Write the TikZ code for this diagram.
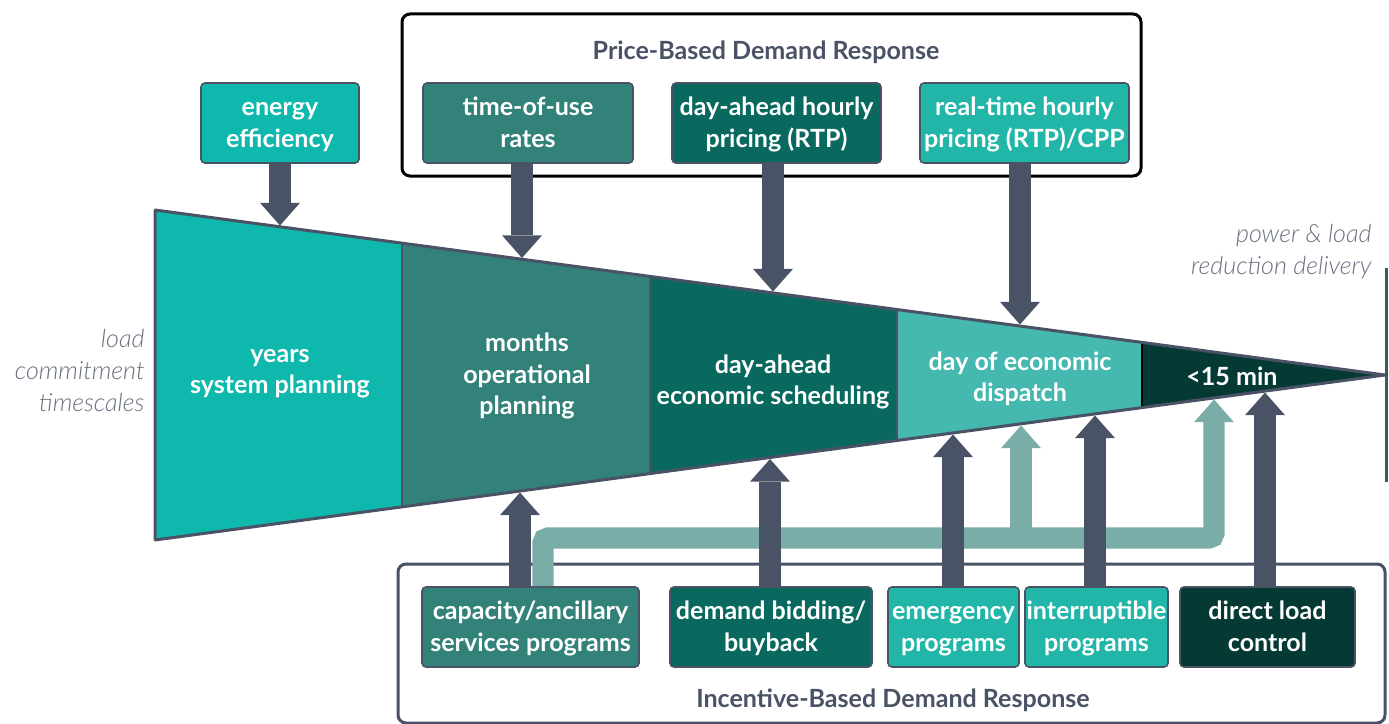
\documentclass[tikz,border=0pt]{standalone}
\usepackage{fontspec}
\setmainfont{Lato}
\newfontfamily\sidefont{Lato Light}
\usetikzlibrary{arrows.meta}

\definecolor{slate}{RGB}{74,82,102}
\definecolor{tealA}{RGB}{14,184,173}
\definecolor{tealB}{RGB}{50,130,122}
\definecolor{tealC}{RGB}{10,105,95}
\definecolor{tealD}{RGB}{69,184,176}
\definecolor{tealE}{RGB}{5,58,52}
\definecolor{tealF}{RGB}{34,182,168}
\definecolor{sage}{RGB}{122,173,168}
\definecolor{greytext}{RGB}{105,111,128}

\tikzset{every picture/.style={line width=0.75pt}}
\tikzset{
	prog/.style={draw=slate, line width=1.2pt, rounded corners=3pt, text=white, align=center,
		font=\bfseries\fontsize{18.8}{23.5}\selectfont, minimum height=60pt, inner sep=0pt,
		text height=41.5pt, text depth=5.5pt},
	sect/.style={text=white, align=center, font=\bfseries\fontsize{18.8}{23.5}\selectfont, inner sep=0pt},
	side/.style={text=greytext, font=\sidefont\itshape\fontsize{18.8}{24}\selectfont, inner sep=0pt},
	title/.style={text=slate, font=\bfseries\fontsize{18.8}{23}\selectfont, inner sep=0pt},
	frame/.style={rounded corners=6pt, line width=2.25pt},
	bigarrow/.style={draw=slate, line width=16pt, -{Triangle[width=30pt,length=17pt,line width=0pt]}},
	lightarrow/.style={draw=sage, line width=16pt, rounded corners=4pt, -{Triangle[width=30pt,length=17pt,line width=0pt]}},
}

\begin{document}
\begin{tikzpicture}[x=0.75pt,y=0.75pt,yscale=-1,xscale=1]
	\useasboundingbox (0,0) rectangle (1389,724);
	
	%Frames
	\draw [frame, draw=black] (402,14) rectangle (1141,176);
	\draw [frame, draw=slate] (398,564) rectangle (1385,723);
	
	%Funnel sections
	\fill [tealA] (155,210) -- (402,243.1) -- (402,506.9) -- (155,540) -- cycle;
	\fill [tealB] (402,243.1) -- (650,276.4) -- (650,473.6) -- (402,506.9) -- cycle;
	\fill [tealC] (650,276.4) -- (897,309.5) -- (897,440.5) -- (650,473.6) -- cycle;
	\fill [tealD] (897,309.5) -- (1142,342.4) -- (1142,407.6) -- (897,440.5) -- cycle;
	\fill [tealE] (1142,342.4) -- (1385,375) -- (1142,407.6) -- cycle;
	%Dividers
	\draw [slate, line width=1.5pt] (402,243.1) -- (402,506.9) (650,276.4) -- (650,473.6) (897,309.5) -- (897,440.5);
	\draw [black, line width=1pt] (1142,342.4) -- (1142,407.6);
	%Outline
	\draw [slate, line width=2.25pt, line join=bevel] (155,210) -- (1385,375) -- (155,540) -- cycle;
	%Delivery line
	\draw [slate, line width=2.25pt] (1386,268) -- (1386,482);
	
	% Text Node
	\node [sect] (yrs) at (280,374) {years\\system planning};
	\node [sect] (mon) at (527,376) {months\\operational\\planning};
	\node [sect] (dah) at (773,382) {day-ahead\\economic scheduling};
	\node [sect] (dod) at (1020,379) {day of economic\\dispatch};
	\node [sect] (fif) at (1232,376) {<15 min};
	\node [side, anchor=east, align=right] (lct) at (145,370) {load\\commitment\\timescales};
	\node [side, anchor=east, align=right] (prd) at (1372,252) {power \& load\\reduction delivery};
	\node [title] (pbdr) at (766,52) {Price-Based Demand Response};
	\node [title] (ibdr) at (893,700) {Incentive-Based Demand Response};
	
	%Arrow ends on the funnel
	\coordinate (tEE) at (280,225.5);
	\coordinate (tTOU) at (522,258);
	\coordinate (tDAH) at (773,291.5);
	\coordinate (tRT) at (1020,324.5);
	\coordinate (bCAP) at (520,492.5);
	\coordinate (bBID) at (770,459);
	\coordinate (bEMG) at (953,434.5);
	\coordinate (bL1) at (1021,425.5);
	\coordinate (bINT) at (1095,415.5);
	\coordinate (bL2) at (1214,399.5);
	\coordinate (bDLC) at (1265,392.5);
	\coordinate (band) at (543,538);
	
	% Program boxes
	\node [prog, fill=tealA, minimum width=118.5pt] (ee) at (280,123) {energy\\efficiency};
	\node [prog, fill=tealB, minimum width=157.5pt] (tou) at (528,123) {time-of-use\\rates};
	\node [prog, fill=tealC, minimum width=156.75pt] (dahp) at (776.5,123) {day-ahead hourly\\pricing (RTP)};
	\node [prog, fill=tealF, minimum width=156.75pt] (rtp) at (1024.5,123) {real-time hourly\\pricing (RTP)/CPP};
	\node [prog, fill=tealB, minimum width=162.75pt] (cap) at (530.5,627) {capacity/ancillary\\services programs};
	\node [prog, fill=tealC, minimum width=151.5pt] (bid) at (771,627) {demand bidding/\\buyback};
	\node [prog, fill=tealF, minimum width=98.25pt] (emg) at (953.5,627) {emergency\\programs};
	\node [prog, fill=tealF, minimum width=107.25pt] (intr) at (1096.5,627) {interruptible\\programs};
	\node [prog, fill=tealE, minimum width=131.25pt] (dlc) at (1267.5,627) {direct load\\control};
	
	% Light arrows
	\draw [lightarrow] (cap.north -| band) |- (bL2 |- band) -- (bL2);
	\draw [lightarrow] (bL1 |- band) -- (bL1);
	
	% Dark arrows
	\draw [bigarrow] (ee.south) -- (tEE);
	\draw [bigarrow] (tou.south -| tTOU) -- (tTOU);
	\draw [bigarrow] (dahp.south -| tDAH) -- (tDAH);
	\draw [bigarrow] (rtp.south -| tRT) -- (tRT);
	\draw [bigarrow] (cap.north -| bCAP) -- (bCAP);
	\draw [bigarrow] (bid.north -| bBID) -- (bBID);
	\draw [bigarrow] (emg.north -| bEMG) -- (bEMG);
	\draw [bigarrow] (intr.north -| bINT) -- (bINT);
	\draw [bigarrow] (dlc.north -| bDLC) -- (bDLC);
	
\end{tikzpicture}
\end{document}
